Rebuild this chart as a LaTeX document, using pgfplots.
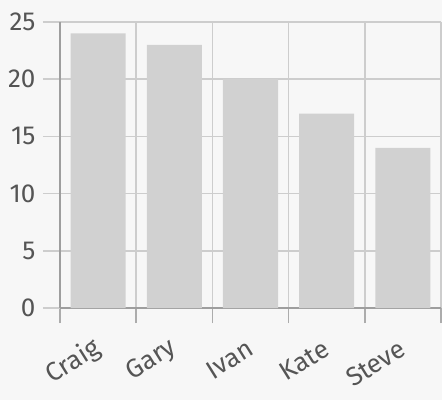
\documentclass[border=0pt]{standalone}
\usepackage{pgfplots}
\pgfplotsset{compat=1.18}
\usepackage{fontspec}
\setmainfont{Fira Sans}
\definecolor{bg}{HTML}{F7F7F7}
\definecolor{gridc}{HTML}{CDCDCD}
\definecolor{axc}{HTML}{9E9E9E}
\definecolor{barc}{HTML}{D1D1D1}
\definecolor{txt}{HTML}{555555}
\begin{document}
\begin{tikzpicture}
\fill[bg] (-60pt,-92pt) rectangle (382pt,308pt);
\begin{axis}[
  at={(0pt,0pt)}, anchor=south west,
  scale only axis, width=381pt, height=286pt,
  xmin=-0.5, xmax=4.5, ymin=0, ymax=25,
  ybar, bar width=55pt, bar shift=0pt,
  xtick={0,...,4}, xticklabels={Craig,Gary,Ivan,Kate,Steve},
  minor xtick={-0.5,0.5,...,4.5},
  ytick={0,5,...,25},
  ymajorgrids, xminorgrids,
  grid style={gridc, line width=1.5pt},
  tick align=outside,
  major tick length=17pt, minor tick length=15pt,
  tick style={gridc, line width=1.5pt},
  minor x tick style={axc!70!gridc},
  major x tick style={draw=none},
  axis x line*=bottom, axis y line*=left,
  axis line style={axc, line width=1.5pt, -},
  /pgf/number format/assume math mode=true,
  tick label style={font=\fontsize{26}{30}\selectfont, text=txt},
  yticklabel style={anchor=east, xshift=-4pt},
  xticklabel style={rotate=32, anchor=east, yshift=-18pt, xshift=-8pt},
]
\addplot[fill=barc, draw=none] coordinates {(0,24) (1,23) (2,20) (3,17) (4,14)};
\end{axis}
\pgfresetboundingbox
\path (-60pt,-92pt) rectangle (382pt,308pt);
\end{tikzpicture}
\end{document}
